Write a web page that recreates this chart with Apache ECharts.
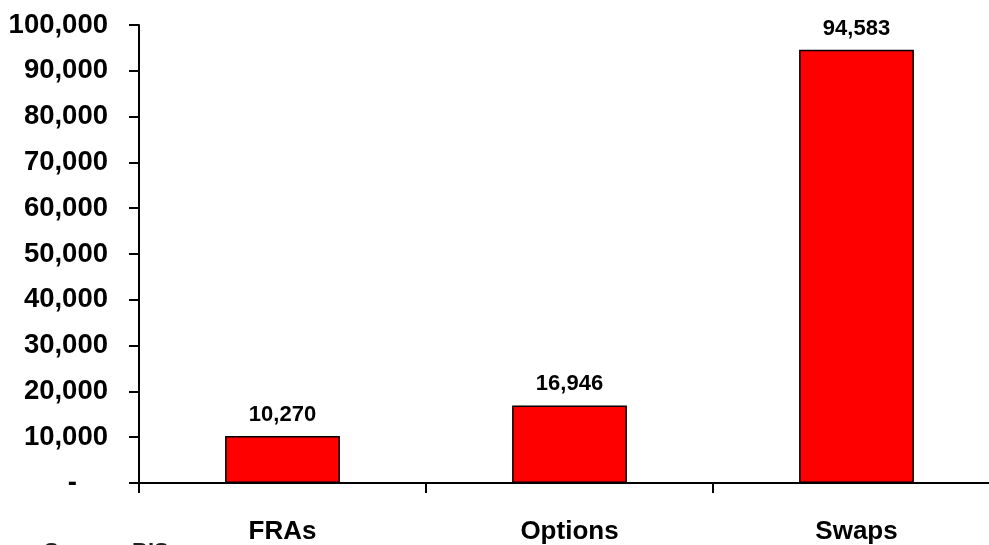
<!DOCTYPE html>
<html>
<head>
<meta charset="utf-8">
<script src="https://cdn.jsdelivr.net/npm/echarts@6/dist/echarts.min.js"></script>
<style>
  html, body { margin: 0; padding: 0; background: #fff; }
  #chart { width: 989px; height: 545px; }
</style>
</head>
<body>
<div id="chart"></div>
<script>
// Notional amounts outstanding by instrument
const categories = ['FRAs', 'Options', 'Swaps'];
const values = [10270, 16946, 94583];
const sourceNote = 'Source: BIS';

const FONT = '"Liberation Sans", Arial, sans-serif';

const chart = echarts.init(document.getElementById('chart'), null, { renderer: 'canvas' });

chart.setOption({
  animation: false,
  backgroundColor: '#ffffff',
  grid: {
    left: 139, top: 25, width: 861, height: 458,
    containLabel: false,
    outerBoundsMode: 'none'
  },
  xAxis: {
    type: 'category',
    data: categories,
    boundaryGap: true,
    axisLine: { show: true, lineStyle: { color: '#000', width: 2 } },
    axisTick: { show: true, inside: false, length: 10, alignWithLabel: false, lineStyle: { color: '#000', width: 2 } },
    axisLabel: {
      margin: 36,
      color: '#000',
      fontFamily: FONT,
      fontWeight: 'bold',
      fontSize: 26
    },
    splitLine: { show: false }
  },
  yAxis: {
    type: 'value',
    min: 0,
    max: 100000,
    interval: 10000,
    axisLine: { show: true, lineStyle: { color: '#000', width: 2 } },
    axisTick: { show: true, inside: false, length: 10, lineStyle: { color: '#000', width: 2 } },
    splitLine: { show: false },
    axisLabel: {
      margin: 31,
      color: '#000',
      fontFamily: FONT,
      fontWeight: 'bold',
      fontSize: 27.5,
      formatter: function (v) {
        if (v === 0) return '{dash|-}';
        return v.toLocaleString('en-US');
      },
      rich: {
        dash: {
          fontFamily: FONT,
          fontWeight: 'bold',
          fontSize: 27.5,
          color: '#000',
          padding: [0, 31, 0, 0]
        }
      }
    }
  },
  series: [{
    type: 'bar',
    data: values,
    barWidth: '40%',
    itemStyle: { color: '#ff0000', borderColor: '#000', borderWidth: 1.5 },
    label: {
      show: true,
      position: 'top',
      distance: 10,
      color: '#000',
      fontFamily: FONT,
      fontWeight: 'bold',
      fontSize: 22,
      formatter: function (p) { return p.value.toLocaleString('en-US'); }
    }
  }],
  graphic: [{
    type: 'text',
    x: 44,
    y: 552,
    style: {
      text: sourceNote,
      fill: '#222',
      font: 'bold 22px ' + FONT,
      verticalAlign: 'middle'
    }
  }]
});
</script>
</body>
</html>
